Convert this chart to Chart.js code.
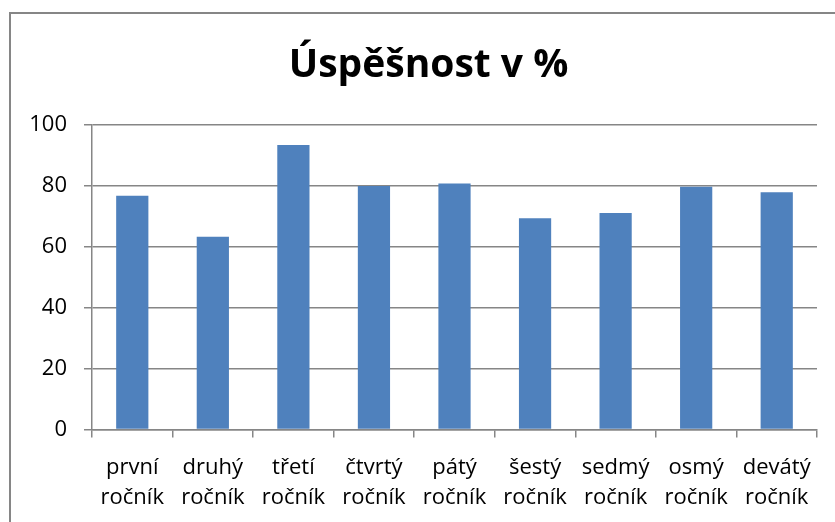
<!DOCTYPE html>
<html>
<head>
<meta charset="utf-8">
<script src="https://cdn.jsdelivr.net/npm/chart.js@4"></script>
<style>
html,body{margin:0;padding:0;background:#fff;}
#wrap{width:835px;height:522px;position:relative;}
</style>
</head>
<body>
<div id="wrap"><canvas id="c" width="835" height="522"></canvas></div>
<script>
const categories = [
  ["první","ročník"],["druhý","ročník"],["třetí","ročník"],["čtvrtý","ročník"],["pátý","ročník"],
  ["šestý","ročník"],["sedmý","ročník"],["osmý","ročník"],["devátý","ročník"]
];
const values = [76.8, 63.3, 93.4, 80.0, 80.8, 69.4, 71.1, 79.7, 77.9];
const titleText = "Úspěšnost v %";
const yMin = 0, yMax = 100, yStep = 20;

const gray = '#868686';
const framePlugin = {
  id: 'frame',
  beforeDraw(chart) {
    const ctx = chart.ctx;
    ctx.save();
    ctx.fillStyle = '#fff';
    ctx.fillRect(0, 0, chart.width, chart.height);
    ctx.strokeStyle = gray;
    ctx.lineWidth = 2;
    ctx.beginPath();
    ctx.moveTo(10, chart.height + 10);
    ctx.lineTo(10, 13);
    ctx.lineTo(chart.width + 10, 13);
    ctx.stroke();
    ctx.restore();
  },
  afterDraw(chart) {
    const ctx = chart.ctx;
    ctx.save();
    ctx.fillStyle = '#000';
    ctx.font = 'bold 39px "Open Sans"';
    ctx.textAlign = 'center';
    ctx.textBaseline = 'alphabetic';
    ctx.fillText(titleText, 428.5, 77);
    ctx.restore();
  }
};

new Chart(document.getElementById('c'), {
  type: 'bar',
  data: {
    labels: categories,
    datasets: [{
      data: values,
      backgroundColor: '#4F81BD',
      borderWidth: 0,
      barPercentage: 0.4,
      categoryPercentage: 1.0
    }]
  },
  options: {
    responsive: false,
    animation: false,
    layout: { padding: { left: 0, right: 18, top: 125, bottom: 0 } },
    plugins: {
      legend: { display: false },
      tooltip: { enabled: false },
      title: { display: false }
    },
    scales: {
      x: {
        offset: true,
        grid: { display: true, drawOnChartArea: false, drawTicks: true, tickLength: 8, color: gray, lineWidth: 1.5, offset: true },
        border: { display: true, color: gray, width: 1.5 },
        ticks: { color: '#000', font: { family: 'Open Sans', size: 22, lineHeight: 1.36 }, padding: 15, maxRotation: 0, autoSkip: false },
        afterFit(scale) { scale.height = 92.5; }
      },
      y: {
        min: yMin, max: yMax,
        grid: { color: gray, lineWidth: 1.5, drawTicks: true, tickLength: 8 },
        border: { display: true, color: gray, width: 1.5 },
        ticks: { stepSize: yStep, color: '#000', font: { family: 'Open Sans', size: 22 }, padding: 17 },
        afterFit(scale) { scale.width = 92; }
      }
    }
  },
  plugins: [framePlugin]
});
</script>
</body>
</html>
